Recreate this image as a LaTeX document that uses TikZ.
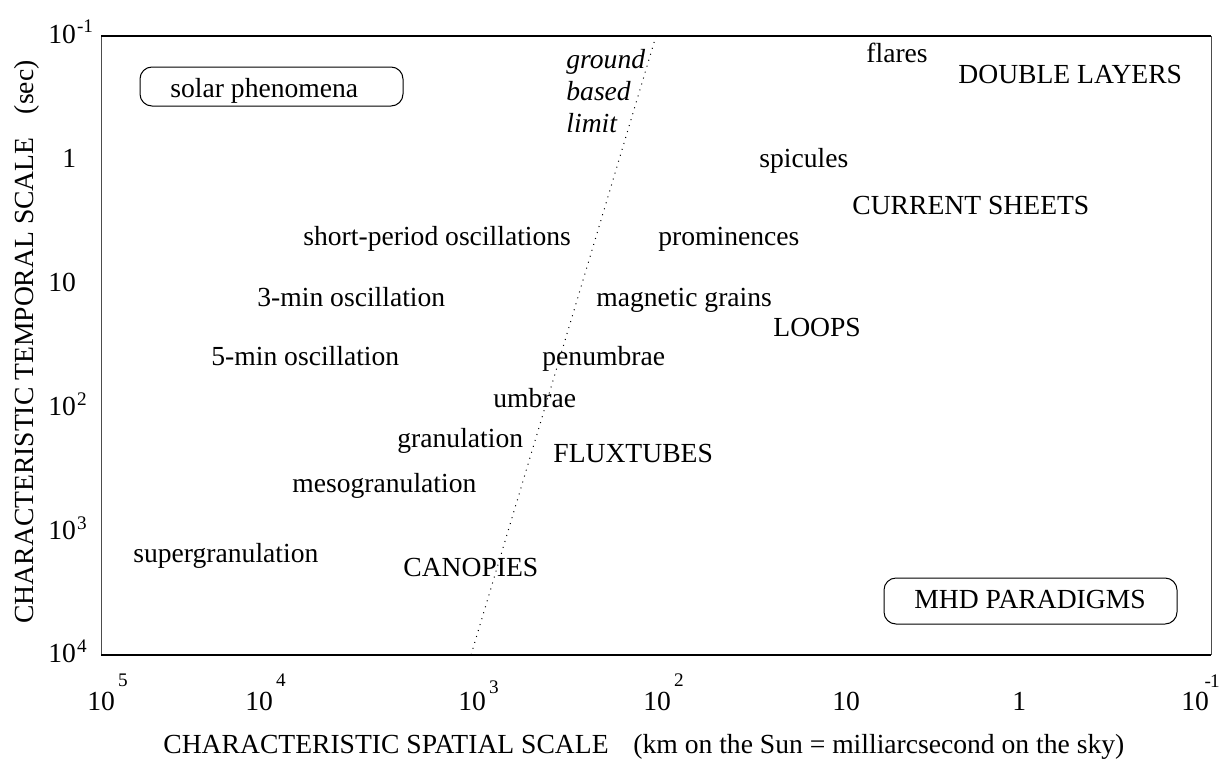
\documentclass[tikz,border=0pt]{standalone}
\usepackage{fontspec}
\setmainfont{Liberation Serif}
\newcommand{\lblfont}{\fontsize{13.8pt}{16pt}\selectfont}
\newcommand{\supfont}{\fontsize{9.6pt}{11pt}\selectfont}
\newcommand{\powten}[3]{10\hspace{#3}\raisebox{#2}{\supfont #1}}
\begin{document}
\begin{tikzpicture}[x=0.5pt,y=-0.5pt,
  lbl/.style={anchor=base west, inner sep=0pt, font=\lblfont},
  ital/.style={lbl, font=\lblfont\itshape},
  ytick/.style={anchor=base west, inner sep=0pt, font=\lblfont},
  pbox/.style={draw, line width=0.5pt, rounded corners=6pt, inner sep=0pt},
  frame/.style={line width=0.6pt},
  sideframe/.style={line width=0.5pt, black!70},
  limitline/.style={line width=0.5pt, dash pattern=on 0.5pt off 2.6pt}]
\useasboundingbox (0,0) rectangle (1220,760);
% frame
\coordinate (fa) at (101,36);
\coordinate (fb) at (1211,36);
\coordinate (fc) at (1211,655);
\coordinate (fd) at (101,655);
\draw[sideframe] (fa) -- (fd) (fb) -- (fc);
\draw[frame] (fa) -- (fb) (fd) -- (fc);
% ground based limit line
\coordinate (gtop) at (656,36);
\coordinate (gbot) at (471,655);
\draw[limitline] (gtop) -- (gbot);
\node[ital] (g1) at (566,68) {ground};
\node[ital] (g2) at (566,100) {based};
\node[ital] (g3) at (566,132) {limit};
% boxes
\node[pbox, minimum width=131.5pt, minimum height=19.5pt] (solarbox) at (271.5,86.5) {};
\node[lbl] (solar) at (170,97) {solar phenomena};
\node[pbox, minimum width=146.5pt, minimum height=23pt] (mhdbox) at (1030.5,601) {};
\node[lbl] (mhd) at (914,608) {MHD PARADIGMS};
% phenomena labels
\node[lbl] (flares) at (866,62) {flares};
\node[lbl] (dl) at (958,83) {DOUBLE LAYERS};
\node[lbl] (spic) at (759,167) {spicules};
\node[lbl] (cs) at (852,214) {CURRENT SHEETS};
\node[lbl] (spo) at (303,245) {short-period oscillations};
\node[lbl] (prom) at (658,245) {prominences};
\node[lbl] (three) at (257,306) {3-min oscillation};
\node[lbl] (mg) at (596,306) {magnetic grains};
\node[lbl] (loops) at (773,336) {LOOPS};
\node[lbl] (five) at (211,365) {5-min oscillation};
\node[lbl] (pen) at (542,365) {penumbrae};
\node[lbl] (umb) at (493,407) {umbrae};
\node[lbl] (gran) at (397,447) {granulation};
\node[lbl] (flux) at (553,462) {FLUXTUBES};
\node[lbl] (meso) at (292,492) {mesogranulation};
\node[lbl] (super) at (133,562) {supergranulation};
\node[lbl] (can) at (403,576) {CANOPIES};
% x tick labels
\node[lbl] (x5) at (87,710) {\powten{5}{12pt}{1.5pt}};
\node[lbl] (x4) at (245,710) {\powten{4}{12pt}{1.5pt}};
\node[lbl] (x3) at (458,710) {\powten{3}{8.5pt}{1.5pt}};
\node[lbl] (x2) at (643,710) {\powten{2}{12pt}{1.5pt}};
\node[lbl] (x1) at (832,710) {10};
\node[lbl] (x0) at (1012,710) {1};
\node[lbl] (xm1) at (1181,710) {\powten{-\kern-0.5pt1}{11.5pt}{-2.2pt}};
% y tick labels
\node[ytick] (ym1) at (48,43.8) {\powten{-1}{5.5pt}{0.5pt}};
\node[ytick] (y0) at (62,167.6) {1};
\node[ytick] (y1) at (48,291.4) {10};
\node[ytick] (y2) at (48,415.2) {\powten{2}{5pt}{0.5pt}};
\node[ytick] (y3) at (48,539) {\powten{3}{5pt}{0.5pt}};
\node[ytick] (y4) at (48,662.8) {\powten{4}{5pt}{0.5pt}};
% axis titles
\node[lbl] (xtitle) at (163,753) {CHARACTERISTIC SPATIAL SCALE\hspace{0.9em}(km on the Sun = milliarcsecond on the sky)};
\node[lbl, anchor=base east, rotate=90] (ytitle) at (33,60) {CHARACTERISTIC TEMPORAL SCALE\hspace{0.85em}(sec)};
\end{tikzpicture}
\end{document}
